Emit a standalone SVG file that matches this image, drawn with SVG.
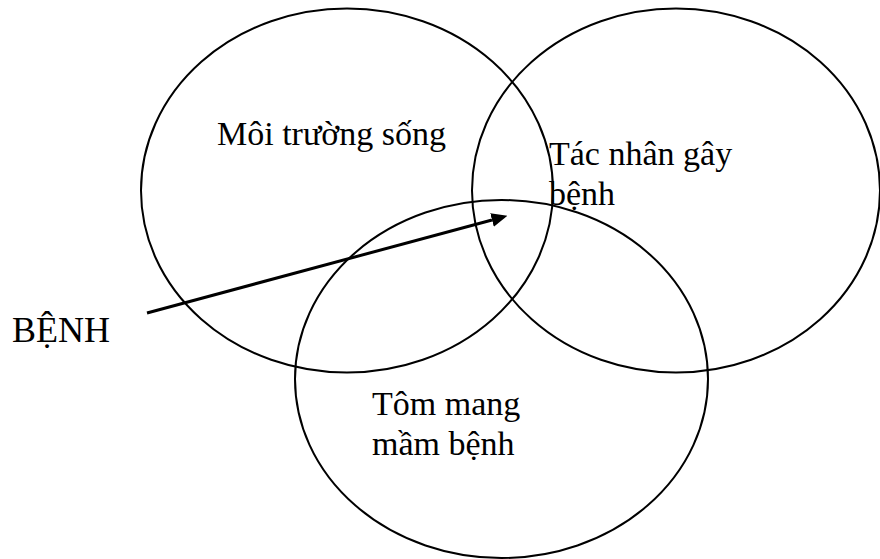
<svg xmlns="http://www.w3.org/2000/svg" width="880" height="559" viewBox="0 0 880 559">
<style>
.c{fill:none;stroke:#000;stroke-width:2}
.t{font-family:"Liberation Serif","Times New Roman",serif;font-size:34px;fill:#000}
.a{stroke:#000;stroke-width:3;fill:none}
</style>
<defs>
<marker id="ah" markerUnits="userSpaceOnUse" markerWidth="16" markerHeight="14" refX="0" refY="7" orient="auto" viewBox="0 0 16 14">
<path d="M0,0 L16,7 L0,14 z" fill="#000"/>
</marker>
</defs>
<rect width="880" height="559" fill="#fff"/>
<g id="moi-truong">
<ellipse class="c" cx="347" cy="190.5" rx="206" ry="182"/>
<text class="t" x="217" y="145">Môi trường sống</text>
</g>
<g id="tac-nhan">
<ellipse class="c" cx="676" cy="190.5" rx="204" ry="182"/>
<text class="t" x="549" y="165">Tác nhân gây</text>
<text class="t" x="549" y="205">bệnh</text>
</g>
<g id="tom-mang">
<ellipse class="c" cx="501.5" cy="379" rx="206.5" ry="179"/>
<text class="t" x="372" y="415">Tôm mang</text>
<text class="t" x="372" y="455">mầm bệnh</text>
</g>
<g id="benh">
<text class="t" x="12" y="342" style="font-size:36px">BỆNH</text>
</g>
<g id="connectors">
<line class="a" x1="147" y1="313" x2="492" y2="220" marker-end="url(#ah)"/>
</g>
</svg>
